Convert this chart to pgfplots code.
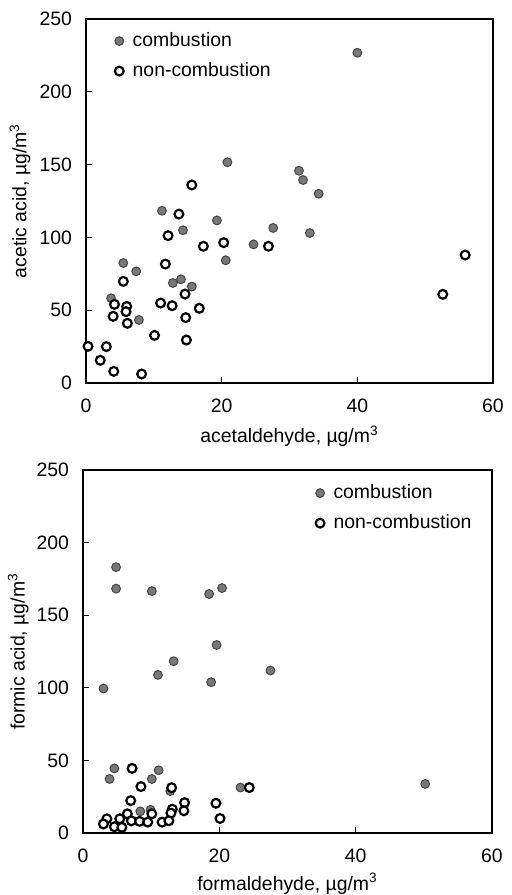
\documentclass[border=0pt]{standalone}
\usepackage{pgfplots}
\pgfplotsset{compat=1.18}
\usepackage{fontspec}
\setmainfont{Liberation Sans}
\definecolor{combfill}{RGB}{120,120,120}
\definecolor{combdraw}{RGB}{70,70,70}

\pgfplotsset{
  chem/.style={
    scale only axis,
    xmin=0, xmax=60, ymin=0, ymax=250,
    xtick={0,20,40,60}, ytick={0,50,100,150,200,250},
    tick align=inside, xtick pos=bottom, ytick pos=left,
    major tick length=3pt,
    axis line style={line width=0.75pt},
    tick style={line width=0.6pt, black},
    /pgf/number format/assume math mode=true,
    font=\fontsize{9.7}{11.6}\selectfont,
    ticklabel style={font=\fontsize{9.7}{11.6}\selectfont},
    xticklabel shift=4.5pt, yticklabel shift=3.5pt,
    legend style={draw=none, fill=none, font=\fontsize{9.7}{11.6}\selectfont,
      row sep=2.5pt, column sep=2.5pt, inner sep=0pt, cells={anchor=west}},
    legend image code/.code={\draw[#1] plot coordinates {(0pt,0pt)};},
  },
  comb/.style={only marks, mark=*, mark size=2.2pt,
    mark options={fill=combfill, draw=combdraw, line width=0.5pt}},
  noncomb/.style={only marks, mark=*, mark size=2.2pt,
    mark options={fill=white, draw=black, line width=1.1pt}},
}

\begin{document}
\begin{tikzpicture}
\useasboundingbox (-43pt,-256pt) rectangle (213pt,191.5pt);

% acetic acid vs acetaldehyde
\begin{axis}[chem, width=203.5pt, height=182pt,
  xlabel={acetaldehyde, µg/m\textsuperscript{3}},
  ylabel={acetic acid, µg/m\textsuperscript{3}},
  xlabel style={at={(axis description cs:0.5,-0.146)}, anchor=center},
  ylabel style={at={(axis description cs:-0.162,0.5)}, anchor=center},
  legend style={at={(axis description cs:0.07,0.975)}, anchor=north west},
]
\addplot[comb] coordinates {
  (40.0,226.8) (20.85,151.6) (31.4,145.8) (32.0,139.4) (34.3,130)
  (11.2,118.3) (19.3,111.7) (27.6,106.5) (14.3,104.9) (33.0,103)
  (24.7,95.2) (20.6,84.3) (5.5,82.4) (7.4,76.7) (14.0,71.2)
  (12.8,68.7) (15.6,66.2) (3.7,58.2) (7.8,43.3)
};
\addlegendentry{combustion}
\addplot[noncomb] coordinates {
  (15.6,136) (13.7,116) (12.1,101.2) (20.3,96.4) (17.3,93.9)
  (26.9,93.9) (55.9,87.9) (11.7,81.7) (5.5,69.8) (14.6,61.1)
  (52.6,60.9) (4.2,54) (6.0,52.6) (5.9,49) (11.0,54.9)
  (12.7,53.1) (16.7,51.3) (4.0,45.8) (14.7,44.9) (6.1,41)
  (10.1,32.7) (14.8,29.5) (0.3,25.2) (3.0,25) (2.1,15.6)
  (4.1,8) (8.2,6.2)
};
\addlegendentry{non-combustion}
\end{axis}

% formic acid vs formaldehyde
\begin{axis}[chem, width=204.5pt, height=181.5pt,
  xshift=-1.5pt, yshift=-225pt,
  xlabel={formaldehyde, µg/m\textsuperscript{3}},
  ylabel={formic acid, µg/m\textsuperscript{3}},
  xlabel style={at={(axis description cs:0.5,-0.14)}, anchor=center},
  ylabel style={at={(axis description cs:-0.158,0.5)}, anchor=center},
  legend style={at={(axis description cs:0.568,0.972)}, anchor=north west},
]
\addplot[comb] coordinates {
  (4.85,183.1) (4.85,168.3) (10.1,166.6) (18.5,164.6) (20.4,168.7)
  (19.6,129.5) (13.3,118.3) (11.0,108.9) (18.8,103.9) (27.5,111.9)
  (3.0,99.5) (4.6,44.5) (11.1,43.2) (3.9,37.2) (10.1,37.2)
  (12.8,28.9) (23.1,31.3) (50.2,33.8) (8.4,14.9) (9.9,16.0)
};
\addlegendentry{combustion}
\addplot[noncomb] coordinates {
  (7.2,44.5) (8.5,32) (13.0,31.2) (24.4,31.3) (7.0,22.3)
  (14.9,20.9) (19.5,20.5) (14.8,15.3) (13.1,16.4) (12.9,13.7)
  (10.1,13.2) (6.5,13.2) (5.4,9.8) (3.5,9.8) (7.1,8.4)
  (8.3,8.0) (9.5,7.5) (11.6,7.5) (12.6,8.4) (20.1,10.0)
  (3.0,6.2) (4.6,4.3) (5.7,3.9)
};
\addlegendentry{non-combustion}
\end{axis}
\end{tikzpicture}
\end{document}
